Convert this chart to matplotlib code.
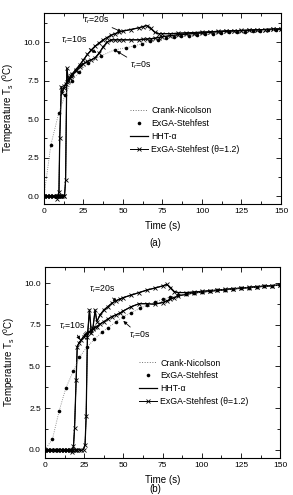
import numpy as np
import matplotlib.pyplot as plt
from matplotlib.ticker import MultipleLocator
from matplotlib.lines import Line2D

plt.rcParams['font.family'] = ['Liberation Sans', 'DejaVu Sans']
plt.rcParams['mathtext.fontset'] = 'custom'
plt.rcParams['mathtext.rm'] = 'Liberation Sans'
plt.rcParams['mathtext.it'] = 'Liberation Sans:italic'

# ---------------- panel (a) data ----------------
t_a = [0, 2, 4, 6, 8, 9, 9.5, 10, 11, 11.6, 12.5, 13, 13.7, 14.5, 15.5, 16.3, 17, 18, 20, 22.5,
       25, 27.5, 30, 32.5, 35, 37.5, 40, 42.5, 45, 47.5, 50, 55, 60, 62.5, 65, 67.5, 70, 72.5, 75, 80,
       85, 90, 95, 100, 105, 110, 115, 120, 125, 130, 135, 140, 145, 150]
# tau_r = 20 s (upper curve)
T_a_tau20 = [0, 0, 0, 0, 0, 0, 0, 0, 0, 0, 0, 0, 1.04, 8.3, 7.5, 7.7, 7.8, 7.95, 8.2, 8.5,
             8.85, 9.2, 9.5, 9.75, 9.95, 10.15, 10.3, 10.45, 10.55, 10.65, 10.72, 10.82, 10.93, 11.0, 11.08, 10.9, 10.65, 10.55, 10.55, 10.55,
             10.58, 10.6, 10.62, 10.65, 10.67, 10.7, 10.72, 10.74, 10.76, 10.78, 10.8, 10.82, 10.84, 10.86]
# tau_r = 10 s (middle curve)
T_a_tau10 = [0, 0, 0, 0, -0.15, 0.0, 0.3, 3.8, 7.1, 6.7, 7.0, 7.15, 7.3, 7.4, 7.55, 7.7, 7.8, 7.9, 8.1, 8.4,
             8.6, 8.75, 8.85, 9.0, 9.3, 9.7, 10.0, 10.15, 10.15, 10.15, 10.15, 10.15, 10.15, 10.18, 10.2, 10.22, 10.25, 10.3, 10.35, 10.42,
             10.48, 10.52, 10.56, 10.6, 10.64, 10.68, 10.71, 10.73, 10.75, 10.77, 10.8, 10.82, 10.84, 10.85]
# tau_r = 0 s (ExGA-Stehfest points)
t_a_tau0 = [0, 4.4, 9.3, 13.5, 17.7, 22.3, 27.6, 35.9, 44.7, 52, 57, 62, 67, 72, 77, 82, 87, 92,
            97, 102, 107, 112, 117, 122, 127, 132, 137, 142, 147]
T_a_tau0 = [0, 3.35, 5.37, 6.6, 7.5, 8.05, 8.66, 9.1, 9.5, 9.64, 9.75, 9.9, 10.05, 10.15, 10.25, 10.32, 10.38, 10.43,
            10.48, 10.52, 10.56, 10.6, 10.63, 10.66, 10.69, 10.72, 10.75, 10.78, 10.8]
t_a_zero = [1, 3, 5, 7, 9, 11]

# ---------------- panel (b) data ----------------
t_b = [0, 2, 4, 6, 8, 10, 12, 14, 16, 17.1, 18.1, 18.8, 19.8, 20.5, 21.5, 23, 24.5, 25.5, 26.2, 27,
       28.3, 29.5, 30.5, 31.9, 33, 35, 37.5, 40, 42.5, 45, 47.5, 50, 55, 60, 65, 70, 75, 77.7, 80, 82.5,
       85, 90, 95, 100, 105, 110, 115, 120, 125, 130, 135, 140, 145, 150]
T_b_tau20 = [0, 0, 0, 0, 0, 0, 0, 0, 0, 0, 0, 0, 0, 0, 0, -0.05, 0, 0.3, 2.04, 6.8,
             8.4, 7.0, 7.3, 8.4, 7.7, 8.1, 8.4, 8.6, 8.8, 8.95, 9.05, 9.15, 9.3, 9.45, 9.6, 9.72, 9.85, 9.94, 9.75, 9.5,
             9.45, 9.45, 9.48, 9.52, 9.56, 9.6, 9.64, 9.68, 9.72, 9.76, 9.8, 9.84, 9.87, 9.9]
T_b_tau10 = [0, 0, 0, 0, 0, 0, 0, 0, 0, -0.15, 0.2, 1.3, 4.2, 6.2, 6.4, 6.6, 6.8, 6.9, 6.95, 7.0,
             7.1, 7.2, 7.25, 7.35, 7.4, 7.55, 7.7, 7.85, 8.0, 8.1, 8.2, 8.35, 8.6, 8.78, 8.78, 8.75, 8.85, 8.95, 9.05, 9.15,
             9.25, 9.35, 9.42, 9.48, 9.53, 9.58, 9.62, 9.67, 9.71, 9.75, 9.79, 9.83, 9.87, 9.9]
t_b_tau0 = [0, 4.7, 8.9, 13.2, 18.1, 21.9, 26.6, 31.5, 36.2, 40.4, 45.3, 50, 54.9, 60.6, 65, 70,
            75, 80, 85, 90, 95, 100, 105, 110, 115, 120, 125, 130, 135, 140, 145, 150]
T_b_tau0 = [0, 0.64, 2.3, 3.7, 4.74, 5.56, 6.16, 6.64, 7.06, 7.34, 7.7, 8.0, 8.24, 8.5, 8.7, 8.88,
            9.05, 9.18, 9.28, 9.35, 9.42, 9.48, 9.53, 9.58, 9.62, 9.66, 9.7, 9.74, 9.78, 9.82, 9.86, 9.9]
t_b_zero = [0.5, 2.5, 4.5, 6.5, 8.5, 10.5, 12.5, 14.5, 16.5]

legend_labels = ['Crank-Nicolson', 'ExGA-Stehfest', 'HHT-α', 'ExGA-Stehfest (θ=1.2)']
tau_labels = ['$\\tau_r$=20s', '$\\tau_r$=10s', '$\\tau_r$=0s']


def draw_panel(ax, t, curves, t0, T0, tz):
    for T in curves:
        ax.plot(t, T, ':', color='0.45', lw=0.6)
        ax.plot(t, T, '-', color='k', lw=0.9)
        ax.plot(t, T, '-', color='k', lw=0.6, marker='x', ms=3.2, mew=0.6)
    ax.plot(t0, T0, ':', color='0.45', lw=0.6)
    ax.plot(t0, T0, 'o', color='k', ms=2.6, mew=0)
    ax.plot(tz, np.zeros(len(tz)), 'o', color='k', ms=2.6, mew=0)

    ax.set_xlim(0, 150)
    ax.xaxis.set_major_locator(MultipleLocator(25))
    ax.xaxis.set_minor_locator(MultipleLocator(12.5))
    ax.yaxis.set_major_locator(MultipleLocator(2.5))
    ax.yaxis.set_minor_locator(MultipleLocator(1.25))
    ax.yaxis.set_major_formatter(plt.FormatStrFormatter('%.1f'))
    ax.tick_params(which='both', direction='in', top=True, right=True, labelsize=6, width=0.6, pad=3)
    ax.tick_params(which='major', length=3.5)
    ax.tick_params(which='minor', length=2)
    for s in ax.spines.values():
        s.set_linewidth(0.8)
    ax.set_xlabel('Time (s)', fontsize=7, labelpad=4)
    ax.set_ylabel('Temperature T$_\\mathrm{s}$ ($^\\mathrm{0}$C)', fontsize=7, labelpad=5)

    handles = [Line2D([], [], ls=':', color='0.45', lw=0.7),
               Line2D([], [], ls='none', marker='o', color='k', ms=2.6, mew=0),
               Line2D([], [], ls='-', color='k', lw=0.9),
               Line2D([], [], ls='-', color='k', lw=0.7, marker='x', ms=3.2, mew=0.6)]
    return handles


fig = plt.figure(figsize=(2.93, 4.95), dpi=100)
ax1 = fig.add_axes([0.150, 0.588, 0.809, 0.386])
ax2 = fig.add_axes([0.154, 0.075, 0.802, 0.386])

h = draw_panel(ax1, t_a, [T_a_tau20, T_a_tau10], t_a_tau0, T_a_tau0, t_a_zero)
ax1.set_ylim(-0.5, 11.9)
ax1.legend(h, legend_labels, loc='upper left', bbox_to_anchor=(0.365, 0.51), frameon=False,
           fontsize=6.3, handlelength=2.0, handletextpad=0.4, labelspacing=0.45,
           borderpad=0, borderaxespad=0)
arr = dict(arrowstyle='-|>', color='k', lw=0.6, mutation_scale=5, shrinkA=0, shrinkB=0)
ax1.annotate(tau_labels[0], xy=(49.2, 10.67), xytext=(33, 11.4), fontsize=6.3,
             ha='center', va='center', arrowprops=arr)
ax1.annotate(tau_labels[1], xy=(33.3, 9.31), xytext=(19, 10.13), fontsize=6.3,
             ha='center', va='center', arrowprops=arr)
ax1.annotate(tau_labels[2], xy=(46, 9.42), xytext=(61, 8.5), fontsize=6.3,
             ha='center', va='center', arrowprops=arr)

h = draw_panel(ax2, t_b, [T_b_tau20, T_b_tau10], t_b_tau0, T_b_tau0, t_b_zero)
ax2.set_ylim(-0.5, 11.0)
ax2.legend(h, legend_labels, loc='upper left', bbox_to_anchor=(0.40, 0.52), frameon=False,
           fontsize=6.3, handlelength=2.0, handletextpad=0.4, labelspacing=0.45,
           borderpad=0, borderaxespad=0)
ax2.annotate(tau_labels[0], xy=(45.8, 8.9), xytext=(36.7, 9.64), fontsize=6.3,
             ha='center', va='center', arrowprops=arr)
ax2.annotate(tau_labels[1], xy=(22.3, 6.6), xytext=(17.6, 7.4), fontsize=6.3,
             ha='center', va='center', arrowprops=arr)
ax2.annotate(tau_labels[2], xy=(49.9, 7.74), xytext=(60.6, 6.86), fontsize=6.3,
             ha='center', va='center', arrowprops=arr)

fig.text(0.529, 1 - 243 / 495, '(a)', fontsize=7, ha='center', va='center')
fig.text(0.529, 0.002, '(b)', fontsize=7, ha='center', va='bottom')

plt.savefig('out.png', dpi=100, facecolor='white')
